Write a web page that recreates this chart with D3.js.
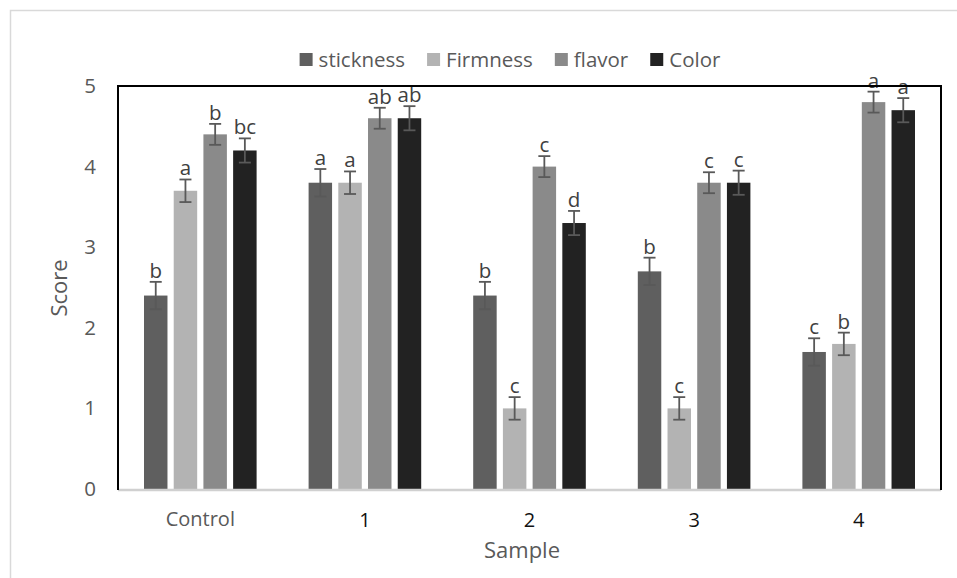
<!DOCTYPE html>
<html>
<head>
<meta charset="utf-8">
<script src="https://cdn.jsdelivr.net/npm/d3@7"></script>
<style>
  body { margin: 0; background: #fff; }
  svg text { font-family: "Open Sans", "DejaVu Sans", sans-serif; }
</style>
</head>
<body>
<svg id="chart" width="957" height="578"></svg>
<script>
// data
const samples = ["Control", "1", "2", "3", "4"];
const seriesNames = ["stickness", "Firmness", "flavor", "Color"];
const seriesColors = ["#5f5f5f", "#b3b3b3", "#8a8a8a", "#222222"];
const stickness = [2.4, 3.8, 2.4, 2.7, 1.7];
const firmness = [3.7, 3.8, 1.0, 1.0, 1.8];
const flavor = [4.4, 4.6, 4.0, 3.8, 4.8];
const color = [4.2, 4.6, 3.3, 3.8, 4.7];
const sticknessErr = [0.17, 0.17, 0.17, 0.17, 0.17];
const firmnessErr = [0.14, 0.14, 0.14, 0.14, 0.14];
const flavorErr = [0.13, 0.13, 0.13, 0.13, 0.13];
const colorErr = [0.15, 0.15, 0.15, 0.15, 0.15];
const sticknessSig = ["b", "a", "b", "b", "c"];
const firmnessSig = ["a", "a", "c", "c", "b"];
const flavorSig = ["b", "ab", "c", "c", "a"];
const colorSig = ["bc", "ab", "d", "c", "a"];
const yTicks = [0, 1, 2, 3, 4, 5];

const values = [stickness, firmness, flavor, color];
const errors = [sticknessErr, firmnessErr, flavorErr, colorErr];
const sigs = [sticknessSig, firmnessSig, flavorSig, colorSig];

const rows = [];
samples.forEach((s, i) => {
  seriesNames.forEach((name, j) => {
    rows.push({ sample: s, series: name, idx: j, value: values[j][i], err: errors[j][i], sig: sigs[j][i] });
  });
});

const svg = d3.select("#chart");
const plotLeft = 118, plotRight = 941, plotTop = 86, plotBottom = 489;

// outer chart frame
svg.append("rect")
  .attr("x", 10.5).attr("y", 10.5)
  .attr("width", 980).attr("height", 600)
  .attr("fill", "none").attr("stroke", "#d9d9d9").attr("stroke-width", 1.5);

const x = d3.scaleBand().domain(samples).range([plotLeft, plotRight]);
const groupWidth = 112.6;
const xs = d3.scaleBand().domain(seriesNames).range([0, groupWidth]).paddingInner(0.21);
const y = d3.scaleLinear().domain([0, 5]).range([plotBottom, plotTop]);

// bars
svg.append("g").selectAll("rect").data(rows).enter().append("rect")
  .attr("x", (d) => x(d.sample) + x.bandwidth() / 2 - groupWidth / 2 + xs(d.series))
  .attr("y", (d) => y(d.value))
  .attr("width", xs.bandwidth())
  .attr("height", (d) => y(0) - y(d.value))
  .attr("fill", (d) => seriesColors[d.idx]);

// error bars
const cx = (d) => x(d.sample) + x.bandwidth() / 2 - groupWidth / 2 + xs(d.series) + xs.bandwidth() / 2;
const eb = svg.append("g").attr("stroke", "#595959").attr("stroke-width", 1.8);
eb.selectAll("line.v").data(rows).enter().append("line")
  .attr("x1", cx).attr("x2", cx)
  .attr("y1", (d) => y(d.value + d.err)).attr("y2", (d) => y(d.value - d.err));
eb.selectAll("line.t").data(rows).enter().append("line")
  .attr("x1", (d) => cx(d) - 6).attr("x2", (d) => cx(d) + 6)
  .attr("y1", (d) => y(d.value + d.err)).attr("y2", (d) => y(d.value + d.err));
eb.selectAll("line.b").data(rows).enter().append("line")
  .attr("x1", (d) => cx(d) - 6).attr("x2", (d) => cx(d) + 6)
  .attr("y1", (d) => y(d.value - d.err)).attr("y2", (d) => y(d.value - d.err));

// significance letters
svg.append("g").selectAll("text").data(rows).enter().append("text")
  .attr("x", cx)
  .attr("y", (d) => y(d.value + d.err) - 4)
  .attr("text-anchor", "middle")
  .attr("fill", "#404040")
  .style("font-size", "20.5px")
  .text((d) => d.sig);

// plot area border
svg.append("line")
  .attr("x1", plotLeft).attr("x2", plotRight).attr("y1", plotBottom + 1).attr("y2", plotBottom + 1)
  .attr("stroke", "#d0d0d0").attr("stroke-width", 2.5);
svg.append("path")
  .attr("d", `M${plotLeft},${plotBottom + 1}V${plotTop}H${plotRight}V${plotBottom + 1}`)
  .attr("fill", "none").attr("stroke", "#000").attr("stroke-width", 2);

// y axis labels
const yAxis = svg.append("g")
  .attr("transform", `translate(${plotLeft - 22},0)`)
  .call(d3.axisLeft(y).tickValues(yTicks).tickFormat(d3.format("d")).tickSize(0).tickPadding(0));
yAxis.select(".domain").remove();
yAxis.selectAll("text")
  .attr("fill", "#595959")
  .style("font-size", "20.5px")
  .style("font-family", '"Open Sans", sans-serif');

// x axis labels
svg.append("g").selectAll("text").data(samples).enter().append("text")
  .attr("x", (d) => x(d) + x.bandwidth() / 2)
  .attr("y", (d, i) => (i === 0 ? 526 : 527))
  .attr("text-anchor", "middle")
  .attr("fill", (d, i) => (i === 0 ? "#595959" : "#111"))
  .style("font-size", "20px")
  .text((d) => d);

// axis titles
svg.append("text")
  .attr("transform", "translate(67,288) rotate(-90)")
  .attr("text-anchor", "middle")
  .attr("fill", "#595959")
  .style("font-size", "22px")
  .text("Score");
svg.append("text")
  .attr("x", 522).attr("y", 558)
  .attr("text-anchor", "middle")
  .attr("fill", "#595959")
  .style("font-size", "22px")
  .text("Sample");

// legend
const legend = svg.append("g");
const items = legend.selectAll("g").data(seriesNames).enter().append("g");
items.append("rect")
  .attr("width", 13).attr("height", 13).attr("y", 53)
  .attr("fill", (d, i) => seriesColors[i]);
items.append("text")
  .attr("x", 19).attr("y", 66.5)
  .attr("fill", "#595959")
  .style("font-size", "20.5px")
  .text((d) => d);
let pos = 0;
const gap = 22;
items.each(function () {
  d3.select(this).attr("transform", `translate(${pos},0)`);
  pos += 19 + d3.select(this).select("text").node().getComputedTextLength() + gap;
});
const legendWidth = pos - gap;
legend.attr("transform", `translate(${510 - legendWidth / 2},0)`);
</script>
</body>
</html>
